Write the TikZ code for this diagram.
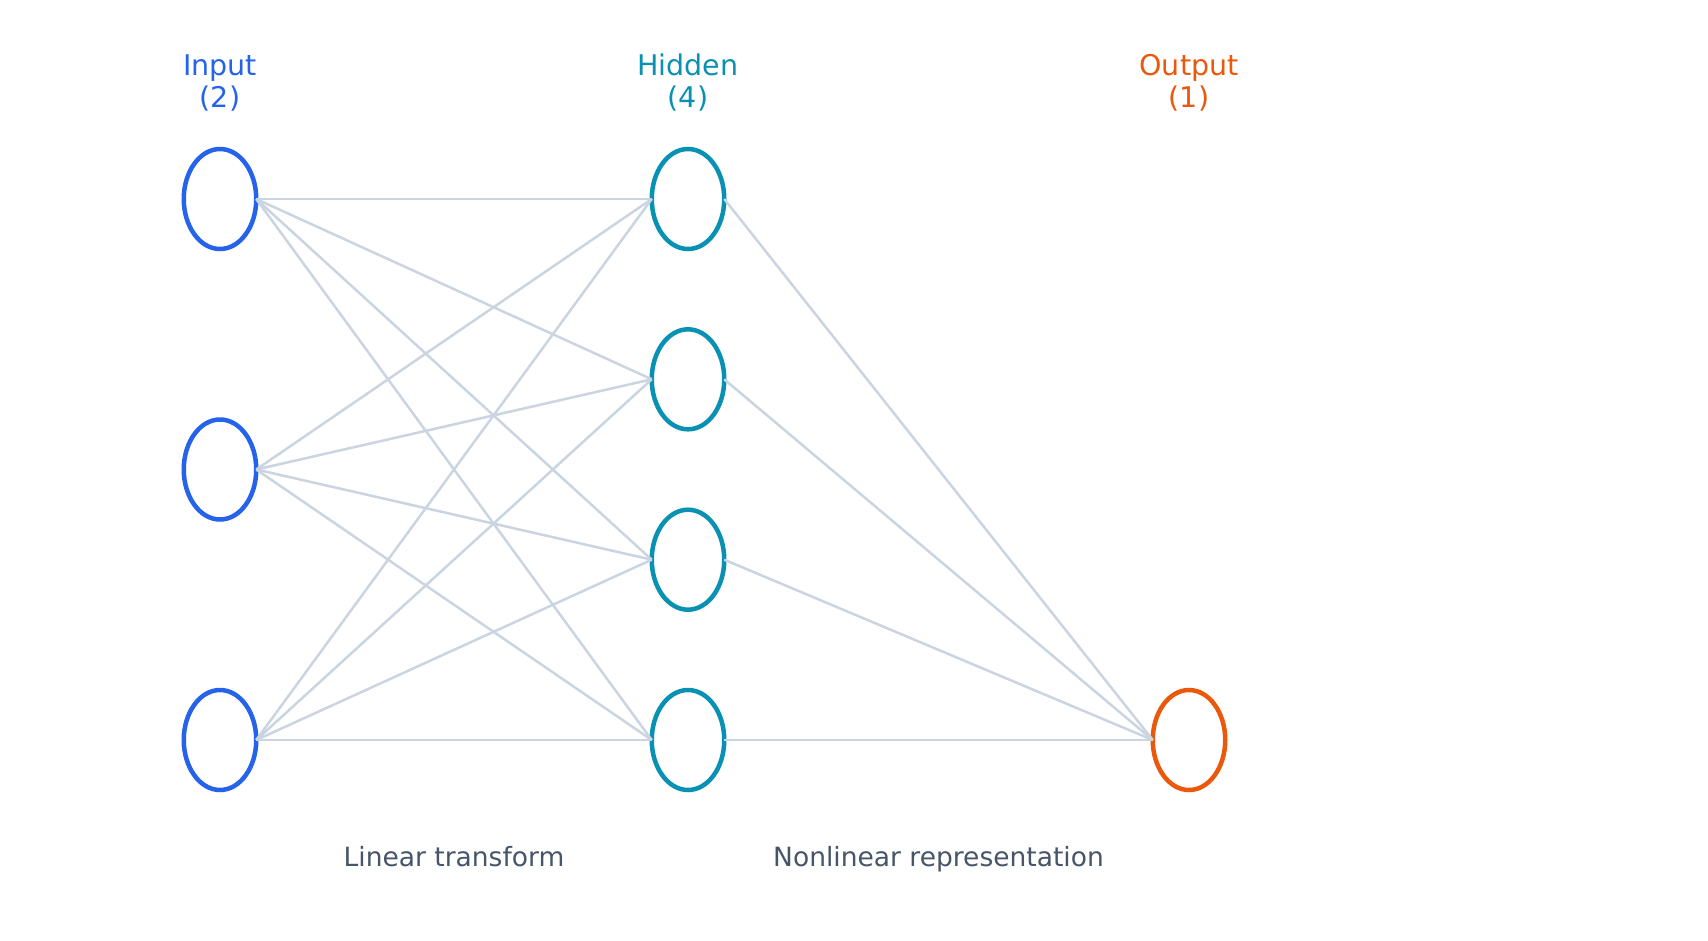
\documentclass[tikz,border=0pt]{standalone}
\usepackage{fontspec}
\setmainfont{DejaVu Sans}
\usetikzlibrary{shapes.geometric}
\definecolor{cin}{HTML}{2563EB}
\definecolor{chid}{HTML}{0891B2}
\definecolor{cout}{HTML}{EA580C}
\definecolor{cedge}{HTML}{CBD5E1}
\definecolor{clab}{HTML}{475569}
\tikzset{
  neuron/.style={ellipse, draw, line width=4.5pt, inner sep=0pt, outer sep=0pt,
    minimum width=72.5pt, minimum height=100pt},
  inneuron/.style={neuron, draw=cin},
  hidneuron/.style={neuron, draw=chid},
  outneuron/.style={neuron, draw=cout},
  edge/.style={draw=cedge, line width=2.5pt},
  head/.style={align=center, anchor=base, inner sep=0pt, font=\fontsize{28.5}{31.5}\selectfont},
  foot/.style={anchor=base, inner sep=0pt, text=clab, font=\fontsize{26.5}{31}\selectfont}
}
\begin{document}
\begin{tikzpicture}[x=1pt,y=-1pt]
\useasboundingbox[fill=white] (0,0) rectangle (1708,940);
% nodes
\node[inneuron] (i1) at (220,199) {};
\node[inneuron] (i2) at (220,469.5) {};
\node[inneuron] (i3) at (220,740) {};
\node[hidneuron] (h1) at (688,199) {};
\node[hidneuron] (h2) at (688,379.3) {};
\node[hidneuron] (h3) at (688,559.7) {};
\node[hidneuron] (h4) at (688,740) {};
\node[outneuron] (o1) at (1189,740) {};
% edges
\foreach \i in {i1,i2,i3}{
  \foreach \h in {h1,h2,h3,h4}{
    \draw[edge] (\i.east) -- (\h.west);
  }
}
\foreach \h in {h1,h2,h3,h4}{
  \draw[edge] (\h.east) -- (o1.west);
}
% labels
\node[head, text=cin] (tin) at (220,107) {Input\\(2)};
\node[head, text=chid] (thid) at (688,107) {Hidden\\(4)};
\node[head, text=cout] (tout) at (1189,107) {Output\\(1)};
\node[foot] (lin) at (454,866.7) {Linear transform};
\node[foot] (nonlin) at (938.5,866.7) {Nonlinear representation};
\end{tikzpicture}
\end{document}
